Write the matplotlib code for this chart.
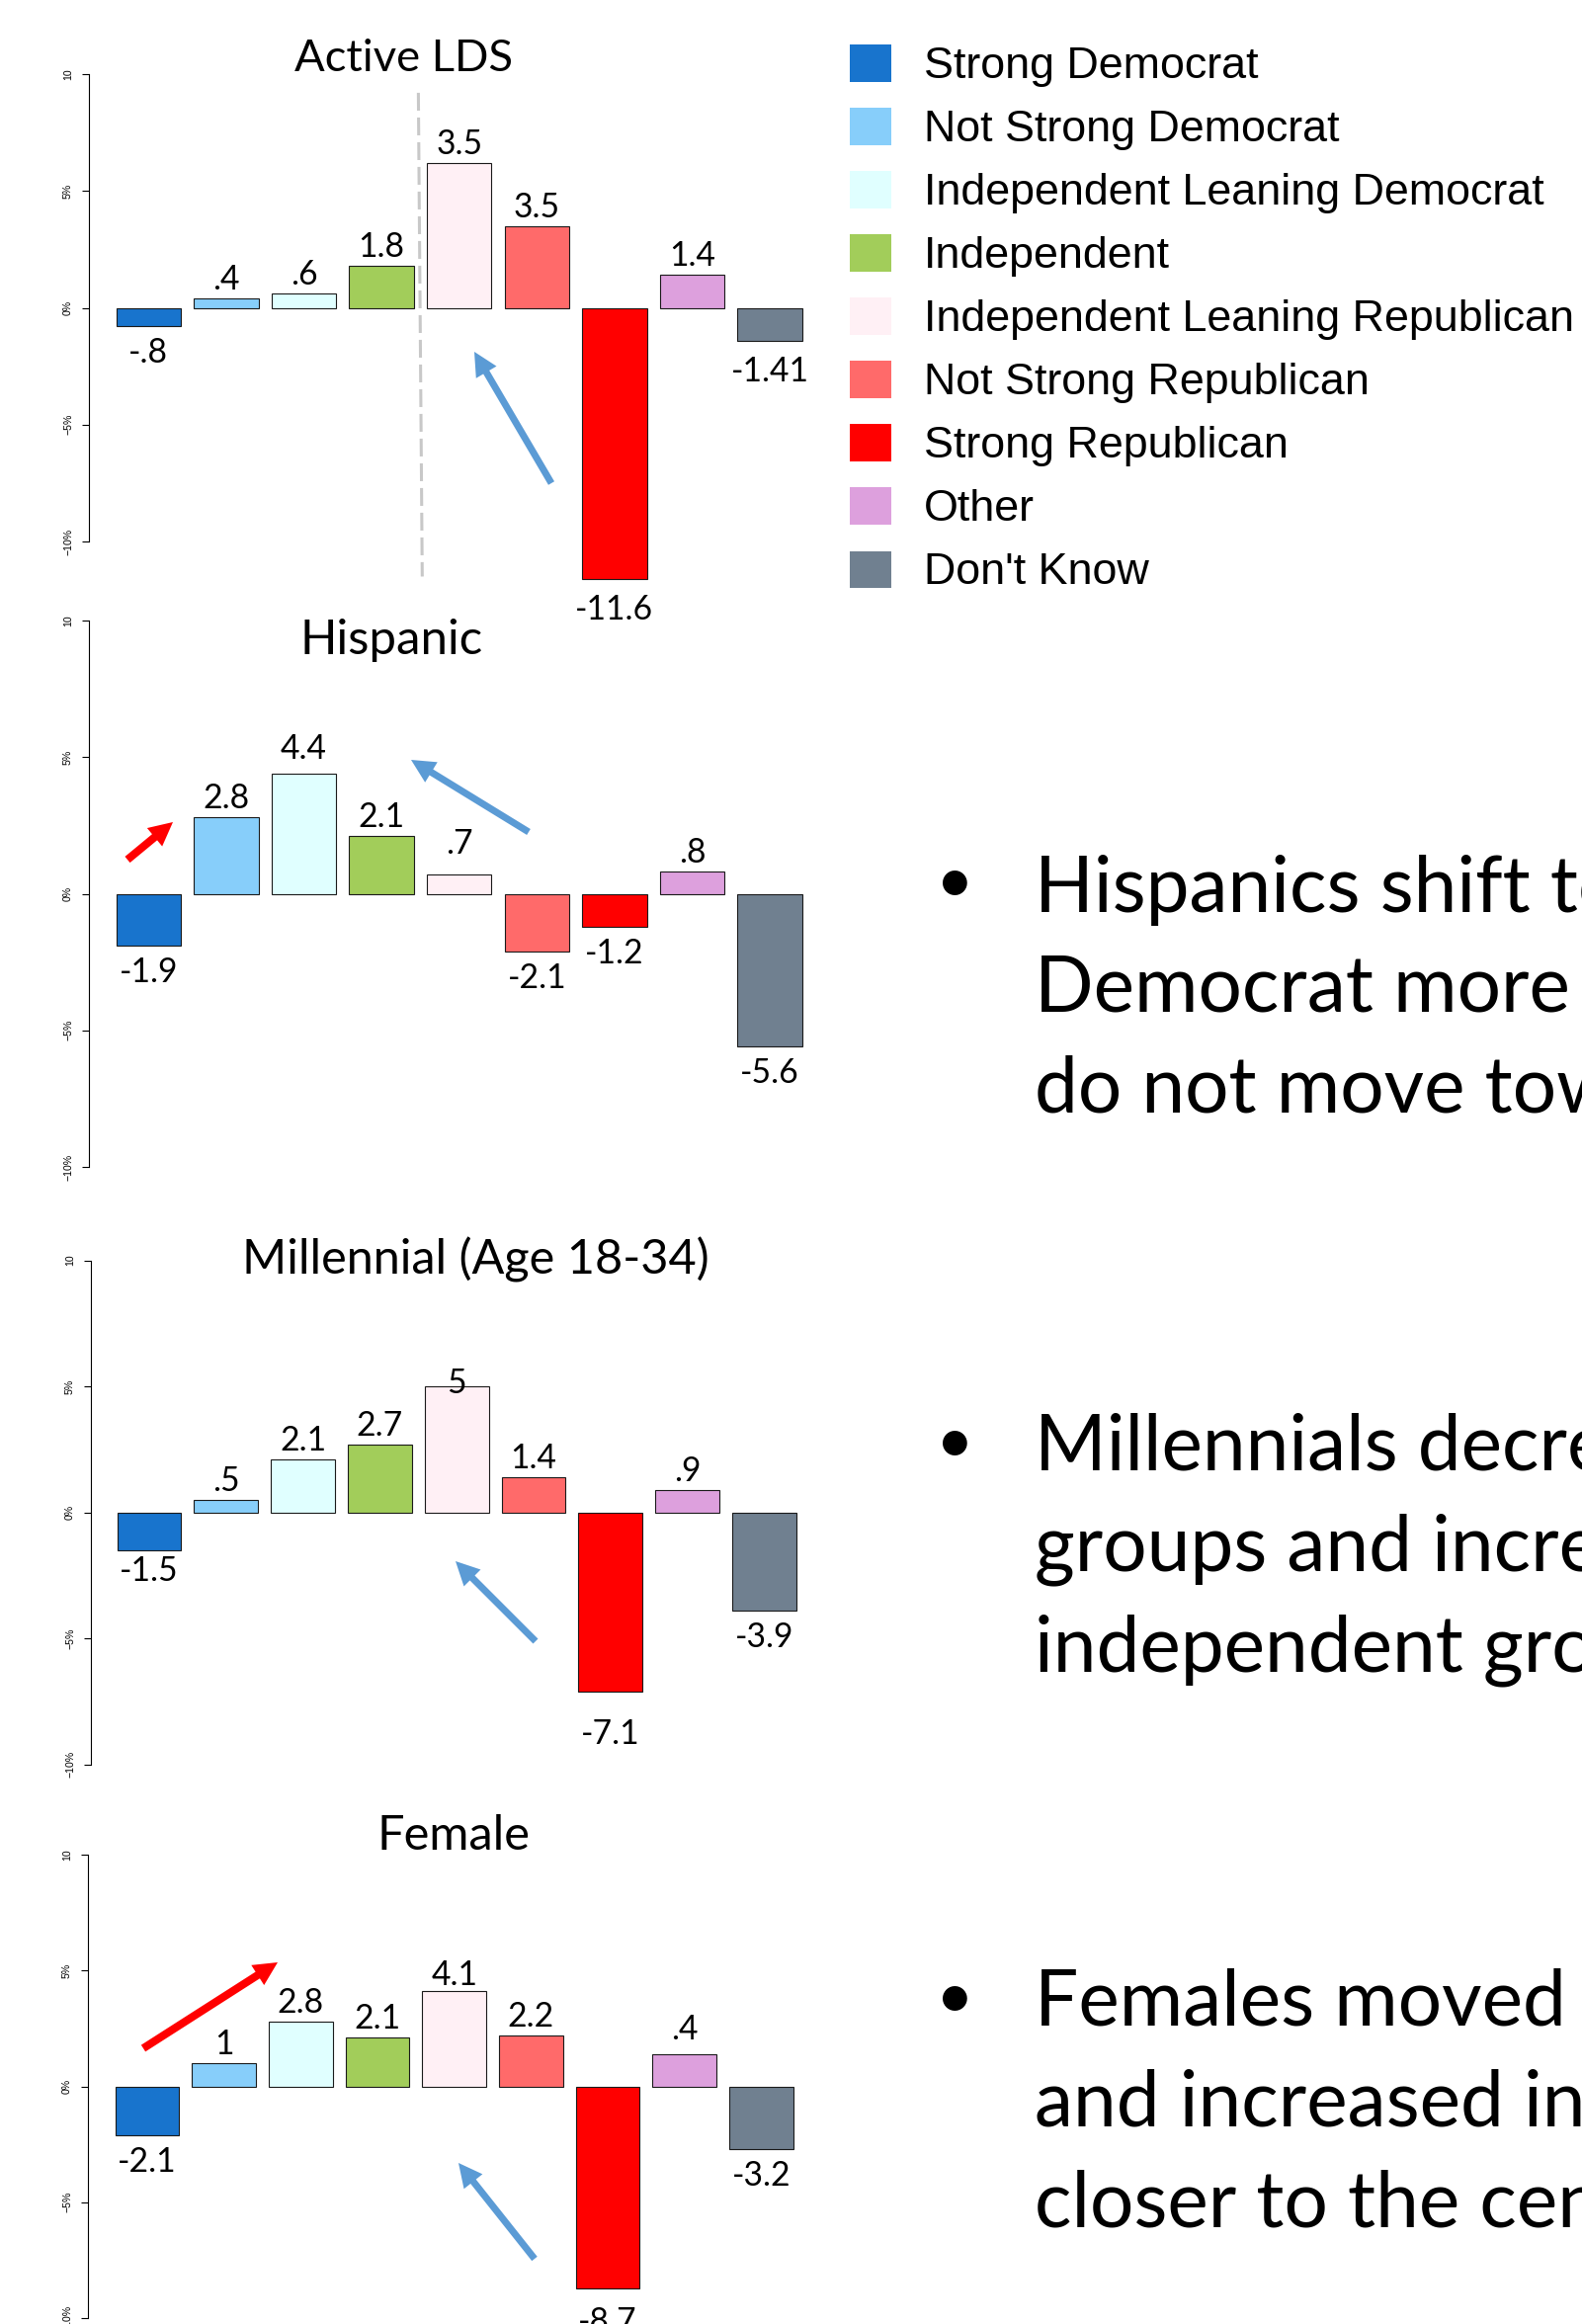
import matplotlib
matplotlib.use("Agg")
import matplotlib.pyplot as plt
from matplotlib.patches import Rectangle, FancyArrow

# ---------------- data ----------------
categories = ["Strong Democrat", "Not Strong Democrat", "Independent Leaning Democrat",
              "Independent", "Independent Leaning Republican", "Not Strong Republican",
              "Strong Republican", "Other", "Don't Know"]
colors = ["#1874CD", "#87CEFA", "#E0FFFF", "#A2CD5A", "#FFF0F5",
          "#FF6A6A", "#FF0000", "#DDA0DD", "#708090"]

titles = ["Active LDS", "Hispanic", "Millennial (Age 18-34)", "Female"]

active_lds = [-0.8, 0.4, 0.6, 1.8, 6.2, 3.5, -11.6, 1.4, -1.41]
active_lds_labels = ["-.8", ".4", ".6", "1.8", "3.5", "3.5", "-11.6", "1.4", "-1.41"]

hispanic = [-1.9, 2.8, 4.4, 2.1, 0.7, -2.1, -1.2, 0.8, -5.6]
hispanic_labels = ["-1.9", "2.8", "4.4", "2.1", ".7", "-2.1", "-1.2", ".8", "-5.6"]

millennial = [-1.5, 0.5, 2.1, 2.7, 5.0, 1.4, -7.1, 0.9, -3.9]
millennial_labels = ["-1.5", ".5", "2.1", "2.7", "5", "1.4", "-7.1", ".9", "-3.9"]

female = [-2.1, 1.0, 2.8, 2.1, 4.1, 2.2, -8.7, 1.4, -2.7]
female_labels = ["-2.1", "1", "2.8", "2.1", "4.1", "2.2", "-8.7", ".4", "-3.2"]

series = [active_lds, hispanic, millennial, female]
series_labels = [active_lds_labels, hispanic_labels, millennial_labels, female_labels]

ytick_values = [10, 5, 0, -5, -10]
ytick_labels = ["10", "5%", "0%", "\u22125%", "\u221210%"]

bullet_texts = [
    ["Hispanics shift to Not Strong", "Democrat more than others but", "do not move toward the center"],
    ["Millennials decrease in partisan", "groups and increase in", "independent groups"],
    ["Females moved away from Republican", "and increased in independents,", "closer to the center"],
]

# ---------------- layout (pixels) ----------------
W, H = 1601, 2352
DPI = 100
CAL = ["Lato", "DejaVu Sans"]
ARIAL = ["Liberation Sans", "DejaVu Sans"]

# spine x, first bar left, bar step, y(+10), y(-10)
panels = [
    dict(spine=89.5, bar0=117.5, step=78.6, ytop=75.0, ybot=548.0,
         tcx=409, tbase=72, tw=221),
    dict(spine=89.5, bar0=117.5, step=78.6, ytop=628.0, ybot=1181.0,
         tcx=396, tbase=662, tw=185),
    dict(spine=91.5, bar0=118.5, step=77.8, ytop=1275.5, ybot=1785.5,
         tcx=481.5, tbase=1290, tw=473),
    dict(spine=88.5, bar0=116.5, step=77.7, ytop=1877.0, ybot=2346.0,
         tcx=459.5, tbase=1872, tw=155),
]

# fine vertical nudges (px, positive = further from bar) for some value labels
label_nudge = {(0, 6): 4, (0, 8): 4, (1, 2): 6, (1, 4): 12, (2, 0): -6,
               (2, 4): -16, (2, 6): 16, (3, 4): -3, (3, 6): 7, (3, 7): 6}

plt.rcParams["lines.scale_dashes"] = False
fig = plt.figure(figsize=(W / DPI, H / DPI), dpi=DPI)
fig.patch.set_facecolor("white")
fig.canvas.draw()
renderer = fig.canvas.get_renderer()


def fit_size(s, family, target_w, ref=40.0):
    t = fig.text(0, 0, s, fontsize=ref, family=family)
    w = t.get_window_extent(renderer).width
    t.remove()
    return ref * target_w / w


def px2pt(px):
    return px * 72.0 / DPI


label_fs = fit_size("-11.6", CAL, 76) * 1.04
title_fs = [fit_size(titles[i], CAL, panels[i]["tw"]) for i in range(4)]
bullet_fs = fit_size("Hispanics shift t", CAL, 514) * 1.07

AX_W = 740.0
axes = []
for i, p in enumerate(panels):
    u = p["step"] / 1.2
    x0 = 0.2 - (p["bar0"] - p["spine"]) / u
    h_px = p["ybot"] - p["ytop"]
    ax = fig.add_axes([p["spine"] / W, 1 - p["ybot"] / H, AX_W / W, h_px / H])
    ax.set_xlim(x0, x0 + AX_W / u)
    ax.set_ylim(-10, 10)
    ax.patch.set_alpha(0)
    for s in ["top", "right", "bottom"]:
        ax.spines[s].set_visible(False)
    ax.spines["left"].set_bounds(-10, 10)
    ax.spines["left"].set_linewidth(0.8)
    ax.set_xticks([])
    ax.set_yticks(ytick_values)
    ax.set_yticklabels(ytick_labels, rotation=90, va="center", family=ARIAL)
    ax.tick_params(axis="y", length=px2pt(7), width=0.8, pad=px2pt(8.5),
                   labelsize=7.6, colors="black")

    xs = [0.7 + 1.2 * k for k in range(len(categories))]
    vals = series[i]
    ax.bar(xs, vals, width=1.0, color=colors, edgecolor="#1a1a1a",
           linewidth=0.8, clip_on=False, zorder=3)

    for k, (x, v, lab) in enumerate(zip(xs, vals, series_labels[i])):
        nud = label_nudge.get((i, k), 0)
        if v >= 0:
            ax.annotate(lab, xy=(x, v), xytext=(0, px2pt(9 + nud)),
                        textcoords="offset points", ha="center", va="baseline",
                        fontsize=label_fs, family=CAL, annotation_clip=False, zorder=4)
        else:
            ax.annotate(lab, xy=(x, v), xytext=(0, -px2pt(11 + nud)),
                        textcoords="offset points", ha="center", va="top",
                        fontsize=label_fs, family=CAL, annotation_clip=False, zorder=4)
    axes.append(ax)

# dashed separator in the first panel, between the Democrat side and the Republican side
sep_x = (0.7 + 1.2 * 3 + 0.5 + 0.7 + 1.2 * 4 - 0.5) / 2
axes[0].plot([sep_x - 0.03, sep_x + 0.03], [9.2, -11.5], color="#C8C8C8", linewidth=2.2,
             dashes=(13, 5), clip_on=False, zorder=2)

# ---------------- overlay (pixel coordinates) ----------------
ov = fig.add_axes([0, 0, 1, 1])
ov.set_xlim(0, W)
ov.set_ylim(H, 0)
ov.axis("off")

for i, p in enumerate(panels):
    ov.text(p["tcx"], p["tbase"], titles[i], ha="center", va="baseline",
            fontsize=title_fs[i], family=CAL, color="black")

# legend
leg_y0, leg_dy = 63.8, 64.06
for k, (name, c) in enumerate(zip(categories, colors)):
    cy = leg_y0 + k * leg_dy
    ov.add_patch(Rectangle((860, cy - 18.75), 41.5, 37.5, facecolor=c, edgecolor="none"))
    ov.text(935, cy + 15, name, ha="left", va="baseline", fontsize=32.3,
            family=ARIAL, color="black")

# arrows
BLUE = "#5B9BD5"
RED = "#FF0000"
arrows = [
    ((558, 489), (480, 356), BLUE),
    ((129, 870), (175, 832), RED),
    ((535, 842), (416, 769), BLUE),
    ((542, 1661), (461, 1580), BLUE),
    ((145, 2073), (281, 1986), RED),
    ((541, 2286), (464, 2189), BLUE),
]
for (x0, y0), (x1, y1), c in arrows:
    wdt = 8 if c == RED else 7
    ov.add_patch(FancyArrow(x0, y0, x1 - x0, y1 - y0, width=wdt, head_width=24,
                            head_length=24, length_includes_head=True,
                            facecolor=c, edgecolor="none"))

# bullet text
bullet_centers = [893, 1460, 2022]
bullet_base = [922, 1488, 2050]
line_gap = 101.5
dot_fs = bullet_fs * 0.85
dot_em_px = dot_fs * DPI / 72.0
for b, lines in enumerate(bullet_texts):
    y0 = bullet_base[b]
    ov.text(966, bullet_centers[b] + 0.31 * dot_em_px, "\u2022", ha="center",
            va="baseline", fontsize=dot_fs, family=CAL, color="black")
    for j, line in enumerate(lines):
        ov.text(1047, y0 + j * line_gap, line, ha="left", va="baseline",
                fontsize=bullet_fs, family=CAL, color="black", clip_on=False)

fig.savefig("out.png", dpi=DPI, facecolor="white")
